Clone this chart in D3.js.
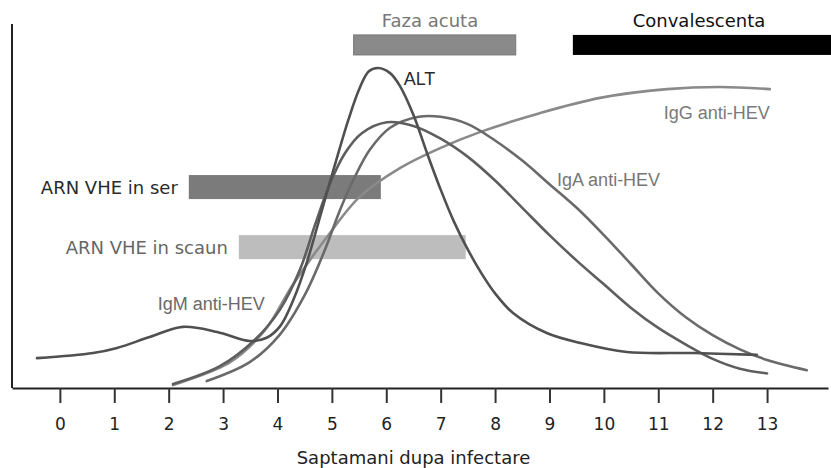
<!DOCTYPE html>
<html>
<head>
<meta charset="utf-8">
<script src="https://cdn.jsdelivr.net/npm/d3@7"></script>
<style>
  body { margin: 0; background: #fff; }
  svg { display: block; }
</style>
</head>
<body>
<div id="chart"></div>
<script>
// Saptamani (weeks) on x, relative level 0-100 on y
const altWeeks = [-0.42, 0.61, 1.05, 1.65, 2.26, 2.89, 3.49, 3.8, 4.05, 4.3, 4.55, 4.8, 5.05, 5.3, 5.5, 5.68, 5.85, 6.07, 6.25, 6.5, 6.75, 7.0, 7.25, 7.5, 7.75, 8.0, 8.33, 8.95, 9.56, 10.42, 11.64, 12.81];
const altValues = [8.2, 9.6, 11.0, 14.0, 16.8, 15.4, 12.9, 13.8, 17.0, 24.5, 35.0, 48.0, 61.0, 73.5, 82.0, 87.0, 87.9, 86.5, 83.0, 75.0, 64.5, 54.5, 45.5, 38.0, 31.5, 26.0, 20.6, 15.1, 12.4, 9.9, 9.6, 9.1];

const igmWeeks = [2.08, 2.94, 3.58, 4.04, 4.41, 4.69, 4.96, 5.24, 5.55, 6.01, 6.5, 7.0, 7.5, 8.0, 8.5, 9.0, 9.5, 10.0, 10.5, 11.0, 11.5, 12.0, 12.5, 13.0];
const igmValues = [1.1, 6.0, 13.2, 21.4, 32.4, 44.8, 56.0, 64.5, 70.0, 73.0, 72.0, 68.5, 63.5, 57.0, 49.5, 42.0, 35.0, 28.5, 22.0, 16.5, 12.0, 8.0, 5.3, 4.0];

const igaWeeks = [2.70, 3.49, 4.04, 4.50, 4.87, 5.15, 5.39, 5.70, 6.07, 6.6, 7.0, 7.5, 8.0, 8.5, 9.0, 9.5, 10.0, 10.5, 11.0, 11.5, 12.0, 12.5, 13.0, 13.73];
const igaValues = [1.9, 7.1, 14.6, 25.5, 37.9, 48.9, 57.0, 65.5, 71.5, 74.5, 74.5, 72.5, 68.0, 62.5, 56.0, 49.5, 42.0, 34.0, 26.0, 19.5, 14.5, 10.6, 7.7, 4.9];

const iggWeeks = [2.08, 3.13, 3.77, 4.28, 4.91, 5.51, 6.25, 6.99, 7.72, 8.82, 9.93, 11.16, 12.13, 13.05];
const iggValues = [0.8, 7.1, 15.9, 28.3, 41.5, 52.5, 60.4, 65.9, 70.3, 75.5, 79.7, 82.1, 82.7, 82.1];

// phases (top bars) and ARN detection windows
const phaseNames = ['Faza acuta', 'Convalescenta'];
const phaseStart = [5.4, 9.43];
const phaseEnd = [8.38, 14.2];

const arnNames = ['ARN VHE in ser', 'ARN VHE in scaun'];
const arnStart = [2.37, 3.29];
const arnEnd = [5.9, 7.46];

const tickWeeks = d3.range(0, 14);
const xTitle = 'Saptamani dupa infectare';

const width = 831;
const height = 468;

const svg = d3.select('#chart')
  .append('svg')
  .attr('width', width)
  .attr('height', height);

const x = d3.scaleLinear().domain([-0.88, 14.12]).range([12, 828]);
const y = d3.scaleLinear().domain([0, 100]).range([388, 24]);

// curves
const line = d3.line()
  .x((d) => x(d[0]))
  .y((d) => y(d[1]))
  .curve(d3.curveCatmullRom.alpha(0.5));

const series = [
  { name: 'IgG anti-HEV', w: iggWeeks, v: iggValues, color: '#8a8a8a' },
  { name: 'IgA anti-HEV', w: igaWeeks, v: igaValues, color: '#6a6a6a' },
  { name: 'IgM anti-HEV', w: igmWeeks, v: igmValues, color: '#5e5e5e' },
  { name: 'ALT', w: altWeeks, v: altValues, color: '#505050' },
];

// ARN bars behind curves
const arnRows = [[58.5, 51.9], [42.0, 35.4]];
const arnColors = ['#7b7b7b', '#bdbdbd'];
const arnTextColors = ['#2a2a2a', '#666'];

svg.selectAll('.arn')
  .data(arnNames)
  .enter()
  .append('rect')
  .attr('class', 'arn')
  .attr('x', (d, i) => x(arnStart[i]))
  .attr('width', (d, i) => x(arnEnd[i]) - x(arnStart[i]))
  .attr('y', (d, i) => y(arnRows[i][0]))
  .attr('height', (d, i) => y(arnRows[i][1]) - y(arnRows[i][0]))
  .attr('fill', (d, i) => arnColors[i]);

svg.selectAll('.arn-label')
  .data(arnNames)
  .enter()
  .append('text')
  .attr('class', 'arn-label')
  .attr('x', (d, i) => x(arnStart[i]) - 11)
  .attr('y', (d, i) => (y(arnRows[i][0]) + y(arnRows[i][1])) / 2)
  .attr('dy', '0.36em')
  .attr('text-anchor', 'end')
  .attr('font-family', 'DejaVu Sans, sans-serif')
  .attr('font-size', '18px')
  .attr('fill', (d, i) => arnTextColors[i])
  .text((d) => d);

svg.selectAll('.curve')
  .data(series)
  .enter()
  .append('path')
  .attr('class', 'curve')
  .attr('d', (s) => line(s.w.map((w, i) => [w, s.v[i]])))
  .attr('fill', 'none')
  .attr('stroke', (s) => s.color)
  .attr('stroke-width', 2.6)
  .attr('stroke-linecap', 'round');

// curve labels
const curveLabels = [
  { text: 'ALT', w: 6.32, v: 83.3, anchor: 'start', color: '#2a2a2a' },
  { text: 'IgG anti-HEV', w: 13.05, v: 73.9, anchor: 'end', color: '#7a7a7a' },
  { text: 'IgA anti-HEV', w: 9.14, v: 55.5, anchor: 'start', color: '#767676' },
  { text: 'IgM anti-HEV', w: 1.8, v: 21.5, anchor: 'start', color: '#6a6a6a' },
];

svg.selectAll('.curve-label')
  .data(curveLabels)
  .enter()
  .append('text')
  .attr('class', 'curve-label')
  .attr('x', (d) => x(d.w))
  .attr('y', (d) => y(d.v))
  .attr('text-anchor', (d) => d.anchor)
  .attr('font-family', 'Liberation Sans, Arial, sans-serif')
  .attr('font-size', '18px')
  .attr('fill', (d) => d.color)
  .text((d) => d.text);

// phase bars on top
const phaseFill = ['#8a8a8a', '#000'];
const phaseText = ['#777', '#111'];

svg.selectAll('.phase')
  .data(phaseNames)
  .enter()
  .append('rect')
  .attr('class', 'phase')
  .attr('x', (d, i) => x(phaseStart[i]))
  .attr('width', (d, i) => x(phaseEnd[i]) - x(phaseStart[i]))
  .attr('y', y(97))
  .attr('height', y(91.5) - y(97))
  .attr('fill', (d, i) => phaseFill[i])
  .attr('stroke', (d, i) => (i === 0 ? '#777' : 'none'))
  .attr('stroke-width', 1);

svg.selectAll('.phase-label')
  .data(phaseNames)
  .enter()
  .append('text')
  .attr('class', 'phase-label')
  .attr('x', (d, i) => (i === 0 ? 430 : 699))
  .attr('y', 27)
  .attr('text-anchor', 'middle')
  .attr('font-family', 'DejaVu Sans, sans-serif')
  .attr('font-size', '18px')
  .attr('fill', (d, i) => phaseText[i])
  .text((d) => d);

// axes
svg.append('line')
  .attr('x1', 12).attr('x2', 12)
  .attr('y1', y(100)).attr('y2', y(0))
  .attr('stroke', '#222')
  .attr('stroke-width', 2);

const xAxis = svg.append('g')
  .attr('transform', `translate(0,${y(0)})`)
  .call(d3.axisBottom(x).tickValues(tickWeeks).tickSize(15).tickSizeOuter(0).tickPadding(15));

xAxis.select('.domain').attr('stroke', '#222').attr('stroke-width', 2);
xAxis.selectAll('.tick line').attr('stroke', '#333').attr('stroke-width', 2);
xAxis.selectAll('.tick text')
  .attr('font-family', 'DejaVu Sans, sans-serif')
  .attr('font-size', '17px')
  .attr('fill', '#222');

svg.append('text')
  .attr('x', (x(0) + x(13)) / 2)
  .attr('y', 464)
  .attr('text-anchor', 'middle')
  .attr('font-family', 'DejaVu Sans, sans-serif')
  .attr('font-size', '18px')
  .attr('fill', '#222')
  .text(xTitle);
</script>
</body>
</html>
